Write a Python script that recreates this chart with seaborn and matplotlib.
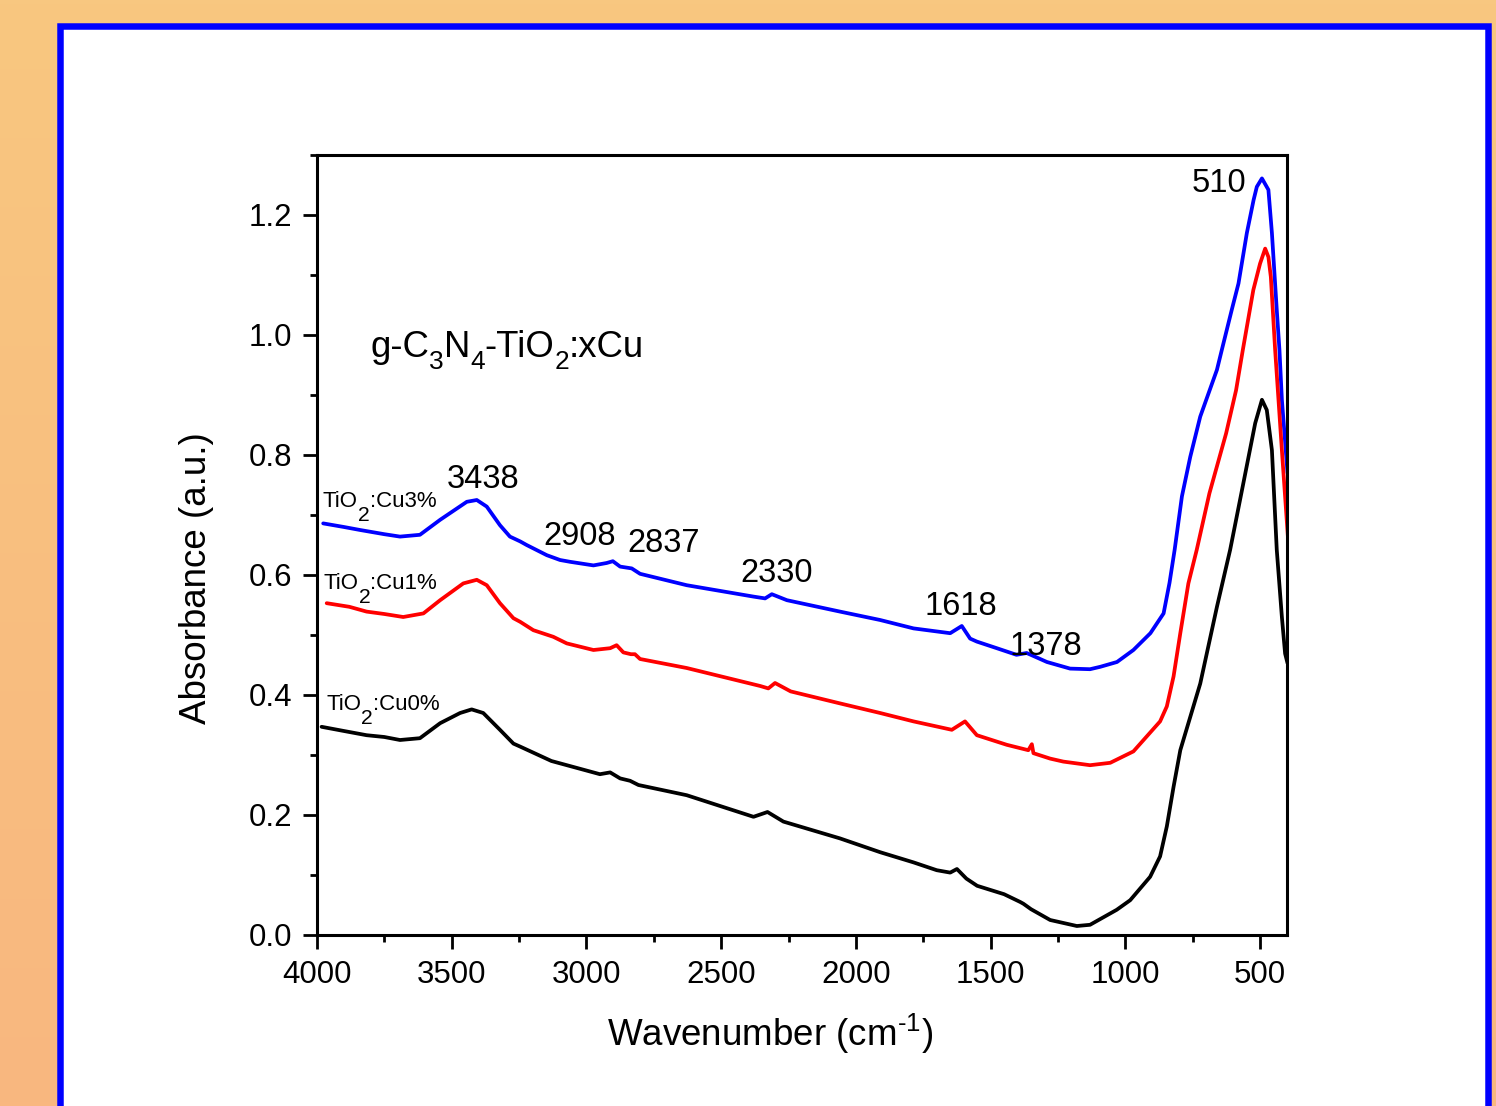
import numpy as np
import pandas as pd
import matplotlib
matplotlib.use("Agg")
import matplotlib.pyplot as plt
import matplotlib.transforms as mtransforms
import seaborn as sns
from matplotlib.patches import Rectangle
from matplotlib.ticker import MultipleLocator, FormatStrFormatter

# ---------------- data ----------------
wn_cu3 = [3977, 3900, 3840, 3750, 3692, 3618, 3543, 3444, 3407, 3370, 3321, 3284, 3246, 3222,
          3147, 3098, 3061, 2974, 2925, 2902, 2875, 2832, 2801, 2628, 2380, 2337, 2312, 2256,
          2059, 1910, 1786, 1650, 1607, 1576, 1551, 1477, 1404, 1366, 1291, 1205, 1131, 1093,
          1031, 970, 907, 858, 836, 817, 790, 759, 722, 660, 642, 605, 580, 549, 524, 512, 493,
          469, 456, 438, 428, 419, 398]
abs_cu3 = [0.686, 0.680, 0.675, 0.668, 0.664, 0.667, 0.692, 0.722, 0.725, 0.714, 0.683, 0.664,
           0.656, 0.650, 0.633, 0.625, 0.622, 0.616, 0.620, 0.623, 0.614, 0.611, 0.602, 0.583,
           0.564, 0.561, 0.568, 0.558, 0.539, 0.525, 0.511, 0.503, 0.515, 0.494, 0.489, 0.478,
           0.467, 0.470, 0.455, 0.444, 0.443, 0.447, 0.455, 0.475, 0.503, 0.536, 0.587, 0.642,
           0.731, 0.797, 0.864, 0.942, 0.975, 1.042, 1.086, 1.170, 1.225, 1.247, 1.261, 1.242,
           1.170, 1.042, 0.975, 0.892, 0.770]

wn_cu1 = [3964, 3880, 3816, 3750, 3680, 3605, 3543, 3457, 3407, 3370, 3321, 3271, 3246, 3197,
          3123, 3073, 2974, 2912, 2888, 2863, 2835, 2820, 2801, 2628, 2355, 2325, 2300, 2242,
          2059, 1910, 1786, 1644, 1595, 1551, 1440, 1360, 1347, 1341, 1279, 1230, 1131, 1056,
          970, 871, 846, 821, 796, 766, 735, 688, 626, 589, 564, 525, 500, 481, 469, 460, 444,
          419, 395]
abs_cu1 = [0.553, 0.547, 0.539, 0.535, 0.530, 0.536, 0.558, 0.586, 0.592, 0.583, 0.553, 0.528,
           0.522, 0.508, 0.497, 0.486, 0.475, 0.478, 0.483, 0.471, 0.468, 0.468, 0.460, 0.445,
           0.415, 0.411, 0.420, 0.406, 0.386, 0.370, 0.356, 0.342, 0.356, 0.333, 0.317, 0.308,
           0.318, 0.303, 0.294, 0.289, 0.283, 0.287, 0.306, 0.356, 0.381, 0.431, 0.503, 0.586,
           0.642, 0.736, 0.836, 0.908, 0.975, 1.075, 1.119, 1.144, 1.130, 1.097, 0.975, 0.808,
           0.653]

wn_cu0 = [3983, 3900, 3816, 3750, 3692, 3618, 3543, 3469, 3426, 3383, 3321, 3271, 3246, 3130,
          2950, 2912, 2875, 2838, 2807, 2628, 2380, 2328, 2269, 2059, 1910, 1786, 1700, 1650,
          1625, 1590, 1550, 1450, 1390, 1378, 1350, 1279, 1180, 1131, 1032, 982, 908, 871, 846,
          821, 796, 722, 660, 611, 562, 518, 493, 475, 456, 438, 419, 407, 398]
abs_cu0 = [0.347, 0.340, 0.333, 0.330, 0.325, 0.328, 0.353, 0.370, 0.376, 0.370, 0.342, 0.319,
           0.314, 0.290, 0.268, 0.271, 0.261, 0.257, 0.250, 0.233, 0.197, 0.205, 0.189, 0.161,
           0.138, 0.121, 0.108, 0.104, 0.110, 0.094, 0.082, 0.068, 0.055, 0.052, 0.043, 0.025,
           0.015, 0.017, 0.042, 0.058, 0.097, 0.131, 0.181, 0.247, 0.308, 0.419, 0.547, 0.642,
           0.753, 0.853, 0.892, 0.875, 0.808, 0.642, 0.530, 0.469, 0.453]

series_labels = [
    [("TiO", "n"), ("2", "sub"), (":Cu3%", "n")],
    [("TiO", "n"), ("2", "sub"), (":Cu1%", "n")],
    [("TiO", "n"), ("2", "sub"), (":Cu0%", "n")],
]
series_colors = ["#0000FF", "#FF0000", "#000000"]
title_parts = [("g-C", "n"), ("3", "sub"), ("N", "n"), ("4", "sub"), ("-TiO", "n"),
               ("2", "sub"), (":xCu", "n")]
peak_labels = ["3438", "2908", "2837", "2330", "1618", "1378", "510"]

# ---------------- style ----------------
sns.set_theme(style="ticks")
plt.rcParams["font.family"] = ["Liberation Sans", "DejaVu Sans"]
plt.rcParams["mathtext.fontset"] = "custom"
plt.rcParams["mathtext.rm"] = "Liberation Sans"
plt.rcParams["mathtext.it"] = "Liberation Sans:italic"
plt.rcParams["mathtext.bf"] = "Liberation Sans:bold"
plt.rcParams["mathtext.default"] = "regular"
for k in ["text.color", "axes.labelcolor", "xtick.color", "ytick.color", "axes.edgecolor"]:
    plt.rcParams[k] = "black"

W, H = 1496, 1106
fig = plt.figure(figsize=(W / 100, H / 100), dpi=100)

# background gradient + blue frame
bg = fig.add_axes([0, 0, 1, 1], zorder=0)
grad = np.linspace(0, 1, 256).reshape(-1, 1)
top_c = np.array([248, 199, 128]) / 255
bot_c = np.array([249, 183, 127]) / 255
img = top_c[None, None, :] * (1 - grad[:, :, None]) + bot_c[None, None, :] * grad[:, :, None]
bg.imshow(img, aspect="auto", extent=[0, 1, 0, 1], origin="upper")
bg.set_xlim(0, 1)
bg.set_ylim(0, 1)
bg.axis("off")
lw_px = 6.5
x0 = 60.2 / W
x1 = 1488.2 / W
ytop = 1 - 25.6 / H
bg.add_patch(Rectangle((x0, -0.05), x1 - x0, ytop + 0.05, facecolor="white",
                       edgecolor="#0000FF", linewidth=lw_px * 0.72, transform=bg.transAxes))

# main axes
ax = fig.add_axes([317 / W, 1 - 935 / H, (1287 - 317) / W, (935 - 155) / H], zorder=2)
ax.set_facecolor("none")

frames = [
    pd.DataFrame({"Wavenumber": wn_cu3, "Absorbance": abs_cu3}),
    pd.DataFrame({"Wavenumber": wn_cu1, "Absorbance": abs_cu1}),
    pd.DataFrame({"Wavenumber": wn_cu0, "Absorbance": abs_cu0}),
]
for df, c in zip(frames, series_colors):
    sns.lineplot(data=df, x="Wavenumber", y="Absorbance", color=c, linewidth=2.7,
                 ax=ax, estimator=None, sort=True)

ax.set_xlim(4000, 400)
ax.set_ylim(0, 1.3)
ax.xaxis.set_major_locator(MultipleLocator(500))
ax.xaxis.set_minor_locator(MultipleLocator(250))
ax.yaxis.set_major_locator(MultipleLocator(0.2))
ax.yaxis.set_minor_locator(MultipleLocator(0.1))
ax.yaxis.set_major_formatter(FormatStrFormatter("%.1f"))
ax.tick_params(which="major", direction="out", length=10, width=2.0, labelsize=22.5,
               pad=8, colors="black")
ax.tick_params(which="minor", direction="out", length=5, width=2.0)
ax.tick_params(top=False, right=False)
for s in ax.spines.values():
    s.set_linewidth(2.2)
    s.set_color("black")

ax.set_xlabel(r"Wavenumber (cm$^{\text{-}1}$)", fontsize=26.5)
ax.set_ylabel("Absorbance (a.u.)", fontsize=26.5)
ax.xaxis.set_label_coords(0.467, -0.098)
ax.yaxis.set_label_coords(-0.106, 0.458)

renderer = fig.canvas.get_renderer()


def rich_text(x, y, parts, size, sub_scale, sub_drop):
    dx = 0.0
    for s, kind in parts:
        fs = size * sub_scale if kind == "sub" else size
        dy = -sub_drop * size if kind == "sub" else 0.0
        tr = mtransforms.offset_copy(ax.transData, fig=fig, x=dx, y=dy, units="points")
        t = ax.text(x, y, s, fontsize=fs, transform=tr, ha="left", va="baseline",
                    color="black")
        dx += t.get_window_extent(renderer).width * 72.0 / fig.dpi


# sample labels
label_pos = [(3978, 0.713), (3975, 0.576), (3965, 0.375)]
for parts, (lx, ly) in zip(series_labels, label_pos):
    rich_text(lx, ly, parts, 16, 0.95, 0.62)

# title inside
rich_text(3803, 0.963, title_parts, 26.3, 0.72, 0.33)

# peak labels
peak_x = [3385, 3024, 2714, 2296, 1610, 1295, 652]
peak_y = [0.745, 0.650, 0.639, 0.589, 0.533, 0.467, 1.239]
for lab, px, py in zip(peak_labels, peak_x, peak_y):
    ax.text(px, py, lab, fontsize=23.5, ha="center", va="baseline", color="black")

fig.savefig("out.png", dpi=100, facecolor=fig.get_facecolor())
